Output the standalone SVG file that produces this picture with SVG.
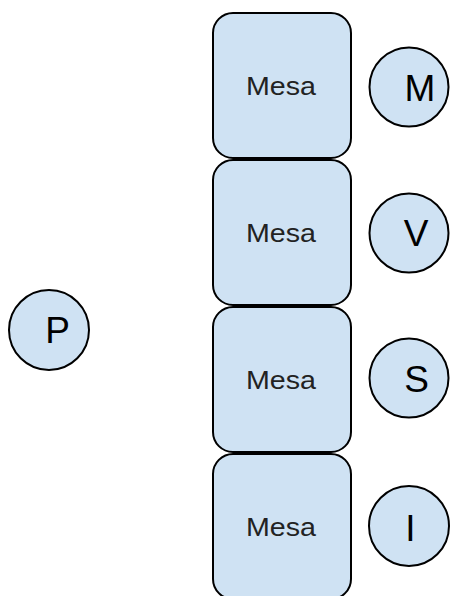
<svg xmlns="http://www.w3.org/2000/svg" width="450" height="596" viewBox="0 0 450 596">
<style>
.box{fill:#cfe2f3;stroke:#000;stroke-width:2}
.lbl{font-family:"Liberation Sans",Arial,sans-serif;font-size:26px;fill:#222;text-anchor:middle}
.big{font-family:"Liberation Sans",Arial,sans-serif;font-size:37px;fill:#000;text-anchor:middle}
</style>
<rect width="450" height="596" fill="#fff"/>
<g id="connectors"></g>
<g id="mesa1"><rect class="box" x="213" y="13" width="138" height="145" rx="20"/><text class="lbl" x="281" y="95" textLength="70" lengthAdjust="spacingAndGlyphs">Mesa</text></g>
<g id="mesa2"><rect class="box" x="213" y="160" width="138" height="145" rx="20"/><text class="lbl" x="281" y="242" textLength="70" lengthAdjust="spacingAndGlyphs">Mesa</text></g>
<g id="mesa3"><rect class="box" x="213" y="307" width="138" height="145" rx="20"/><text class="lbl" x="281" y="389" textLength="70" lengthAdjust="spacingAndGlyphs">Mesa</text></g>
<g id="mesa4"><rect class="box" x="213" y="454" width="138" height="145" rx="20"/><text class="lbl" x="281" y="536" textLength="70" lengthAdjust="spacingAndGlyphs">Mesa</text></g>
<g id="M"><circle class="box" cx="409" cy="87" r="39.5"/><text class="big" x="420" y="101">M</text></g>
<g id="V"><circle class="box" cx="409" cy="233" r="39.5"/><text class="big" x="416" y="246">V</text></g>
<g id="S"><circle class="box" cx="409" cy="378" r="39.5"/><text class="big" x="416.5" y="392">S</text></g>
<g id="I"><circle class="box" cx="409" cy="526" r="40"/><text class="big" x="410.5" y="541">I</text></g>
<g id="P"><circle class="box" cx="49" cy="330" r="40"/><text class="big" x="57.5" y="343">P</text></g>
</svg>
